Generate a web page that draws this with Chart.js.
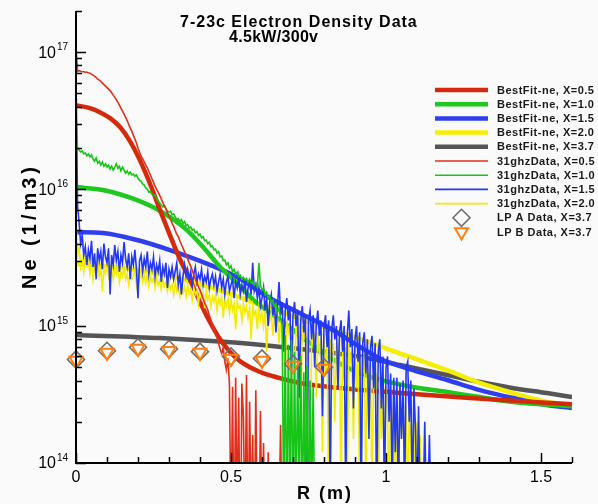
<!DOCTYPE html>
<html>
<head>
<meta charset="utf-8">
<script src="https://cdn.jsdelivr.net/npm/chart.js@4.4.1/dist/chart.umd.min.js"></script>
<style>
html,body{margin:0;padding:0;background:#fafafa;}
canvas{display:block;}
</style>
</head>
<body>
<canvas id="c" width="598" height="504"></canvas>
<script>
// All densities below are in units of 1e14 m^-3
const UNIT = 1e14;
// 31 GHz interferometer traces are sampled every 0.005 m starting at R = 0
const R_STEP = 0.005;

const TITLE_LINE1 = '7-23c Electron Density Data';
const TITLE_LINE2 = '4.5kW/300v';
const X_TITLE = 'R (m)';
const Y_TITLE = 'Ne (1/m3)';

const X_TICKS = [0, 0.5, 1, 1.5];
const X_TICK_LABELS = ['0', '0.5', '1', '1.5'];
const Y_TICKS = [1e14, 1e15, 1e16, 1e17];
const Y_TICK_EXP = ['14', '15', '16', '17'];

// ---- Best fit curves ----
const R_FIT_05 = [0,0.045,0.077,0.11,0.142,0.174,0.206,0.239,0.271,0.303,0.335,0.368,0.4,0.432,0.465,0.497,0.529,0.594,0.658,0.723,0.852,1.045,1.271,1.6];
const NE_FIT_05 = [410,390,365,330,284,224,163,109,70.3,46.2,30.9,21.7,15.0,10.7,8.0,6.46,5.55,4.62,4.17,3.84,3.53,3.25,2.98,2.69];

const R_FIT_10 = [0,0.087,0.197,0.248,0.303,0.358,0.41,0.465,0.519,0.584,0.658,0.755,0.852,0.948,1.087,1.197,1.303,1.41,1.6];
const NE_FIT_10 = [103.5,98.5,83.2,74,62.5,50.2,37.8,27,20.6,14.7,11.1,7.5,5.3,4.25,3.59,3.3,3.03,2.79,2.6];

const R_FIT_15 = [0,0.087,0.197,0.303,0.41,0.519,0.626,0.723,0.829,0.916,0.99,1.087,1.197,1.303,1.41,1.519,1.6];
const NE_FIT_15 = [48.5,47.8,42.5,35.9,29.3,22.8,16.0,12.4,9.35,7.03,5.65,4.77,4.04,3.41,2.98,2.65,2.52];

const R_FIT_20 = [0,0.1,0.2,0.3,0.4,0.5,0.6,0.7,0.8,0.9,0.99,1.087,1.197,1.303,1.41,1.519,1.6];
const NE_FIT_20 = [28.4,27.4,25.6,23.2,20.3,17.1,14.2,11.8,9.8,8.3,7.0,5.85,4.77,3.84,3.24,2.79,2.65];

const R_FIT_37 = [0,0.271,0.487,0.616,0.723,0.829,0.939,1.045,1.197,1.303,1.41,1.519,1.6];
const NE_FIT_37 = [8.6,8.17,7.64,7.2,6.8,6.36,5.85,5.19,4.39,3.9,3.52,3.24,3.03];

// ---- 31 GHz data (R = i * R_STEP) ----
const NE_31_05 = [
1090,726,733,726,720,720,715,714,708,703,
691,680,668,652,635,625,614,594,580,565,
551,537,524,506,486,470,451,432,411,390,
371,353,335,317,298,279,265,248,232,217,
199,186,174,166,158,150,143,134,127,119,
112,105,100,95,90,85,80,75,72,67,
63.5,60,56.5,53.5,50,47,45,42,39.6,37.2,
35,33,31,29,27.4,25.6,23.6,22,20.6,19.3,
18.3,17.1,15.8,14.8,14,13.1,12,11.1,10.2,9.5,
8.7,8.2,7.5,6.8,6.3,6.9,5.5,4.8,5.8,3.8,
0.3,3.6,0.2,4.2,0.4,3.0,0.1,3.8,2.2,0.3,
4.4,0.2,2.8,0.4,1.6,0.2,3.4,0.3,0.2,2.4,
0.3,1.4,0.2,0.2,1.2,0.2,0.3,0.2,0.2,0.3,
0.2,0.4,1.9,0.2];

const NE_31_10 = [
360,199,193,187,190,181,184,175,181,172,
178,166,160,169,155,160,150,158,147,153,
145,150,140,147,138,145,153,142,147,136,
145,138,131,136,129,133,127,129,124,127,
120,116,114,109,107,102,100,95,96,92,
89,90,85,82,79,77,74,76,72,69,
68,69,65,66,63,60,61,58,60,56,
58,54,55,52,53,50,51,48,49,46,
47,44,45,42,42.5,40,41,38,38.5,36,
36.5,34,35,32,32.5,30,30.3,28,29,26.5,
27.5,25,26,24,24.8,23,23.5,22,22.7,21.7,
22.3,20.9,22,20.6,21.3,19.9,20.6,19.3,28.8,19.9,
18.3,18.9,17,17.7,16,16.6,15,15.5,14,14.5,
12.7,13.5,11.4,10.2,0.4,8.6,0.3,7.3,0.5,7.9,
0.3,6.5,0.4,5.6,0.6,6.1,0.3,4.6,0.4,5.2,
0.3,4.0,0.5,3.6,0.4,0.3];

const NE_31_15 = [
700,76,57,40,46,33,38,28,36,31,
42,27,34,22,37,30,35,26,40,32,
29,37,17,33,28,39,30,35,25,33,
29,41,31,27,34,22,32,28,36,26,
16,30,33,25,31,27,35,24,29,26,
32,23,28,25,30,21,27,24,29,19,
26,23,27,22,25,29,20,24,17,23,
28,23,26,22,25,20,24,27,21,24,
22,26,20,23,21,25,19,22,24,20,
23,18,21,24,19,22,17,21,23,18,
20,22,16,21,19,23,17,20,18,22,
15,19,21,17,29,18,20,16,19,14,
16,19,13,16,10,15,17,12,15,9,
14,21,12,15,6.5,13,16,11,14,4.5,
12,15,10,13,3.0,11,14,9,12,0.6,
11,13,8,12,5,10,13,8.5,11,2.2,
10,12,7,11,0.5,9.5,12,8,10,3.5,
9,11,6.5,10,0.6,8.5,13,7,9.5,2.5,
8,10,5.5,9,0.5,7.5,9,4.5,8,1.5,
7,8.5,3.5,7.5,0.4,6.5,8,2.5,6,0.5,
5,6,2,4.5,0.6,4.2,1.2,4.2,0.5,3.8,
1.5,4,0.6,5,5.5,2,4,0.5,3.5,1.8,
0.5,2.6,0.5,0.6,0.5,2.0,0.5,0.5,1.6,0.5];

const NE_31_20 = [
60,33,38,27,31,25,33,28,30,24,
29,22,28,25,30,23,27,18,26,24,
28,23,26,27,22,26,24,27,21,25,
23,27,22,24,20,25,22,23,26,20,
25,22,24.5,21,23.5,20.5,24,19.5,23,21,
22.5,19,23,20,21.5,18.5,22,19.5,21,18,
21.5,18.5,20,17,21,18,19.5,16.5,20,17.5,
19.5,16.5,20,17,18.5,15.5,19,17,18,14.5,
18.5,16,17.5,13.5,18,15.5,17,14,16.5,15,
17,13,16,14.5,16.5,11.5,15.5,14,16,12.5,
15.5,13,14.5,9.5,15,13.5,14,11,14.5,12.5,
14,11.5,13.5,8,14,12,13,9.5,13.5,11,
12.5,10,13,6.5,12,11,12.5,8.5,11.5,10,
11.5,7.5,11,9.5,10.5,5,11,9,10.5,7,
10,3.5,10.5,8.5,9.5,2.2,10,8,9,5.5,
9.5,0.6,9,7.5,8.5,3,9,6.5,8,1.2,
8.5,4.5,8,0.5,8,6.5,7.5,2,7.5,5.5,
8,0.5,7.5,4,7,0.6,7.5,5.5,6.5,1.5,
7,3.5,6.5,0.5,6,4.5,6.5,0.6,5.5,2.5,
5.5,0.5,5,3.5,4.5,0.5,4.2,1.5,3.8,0.6,
3.6,2.4,0.5,3.4,1.2,3.2,0.5,2.8,0.6,3,
1.6,2.8,0.5,2.6,0.5,2.4,1.4,0.5,2.2,0.5,
2.0,0.5,1.6,0.5,0.5];

// ---- Langmuir probe data, X = 3.7 ----
const R_LP = [0,0.1,0.2,0.3,0.4,0.5,0.6,0.7,0.8];
const NE_LP_A = [5.7,6.6,7.0,6.8,6.5,6.0,5.8,5.3,5.0];
const NE_LP_B = [5.6,6.4,6.85,6.6,6.4,5.8,5.6,5.15,4.9];

// ---- helpers to build point lists ----
function pairs(rs, vals) { return vals.map((v, i) => ({ x: rs[i], y: v * UNIT })); }
function sampled(vals) { return vals.map((v, i) => ({ x: +(i * R_STEP).toFixed(3), y: v * UNIT })); }

const C = {
  fitRed: '#d42a0c', fitGreen: '#1ec81e', fitBlue: '#2f3ff0', fitYellow: '#f6ee00', fitGray: '#555555',
  datRed: '#e0301c', datGreen: '#16c416', datBlue: '#2238f2', datYellow: '#f4ec00',
  lpA: '#6e6e6e', lpB: '#ff7f10'
};

function fit(label, rs, vals, color) {
  return { label, data: pairs(rs, vals), borderColor: color, backgroundColor: color, borderWidth: 4.5,
    pointRadius: 0, cubicInterpolationMode: 'monotone', fill: false };
}
function trace(label, vals, color) {
  return { label, data: sampled(vals), borderColor: color, backgroundColor: color, borderWidth: 1.6,
    pointRadius: 0, tension: 0, fill: false };
}

// index 0 is drawn on top
const datasets = [
  { label: 'LP B Data, X=3.7', data: pairs(R_LP, NE_LP_B), showLine: false, pointStyle: 'triangle', rotation: 180,
    pointRadius: 7.5, pointBorderWidth: 2, borderColor: C.lpB, pointBorderColor: C.lpB, backgroundColor: 'rgba(0,0,0,0)', pointBackgroundColor: 'rgba(0,0,0,0)', clip: false },
  { label: 'LP A Data, X=3.7', data: pairs(R_LP, NE_LP_A), showLine: false, pointStyle: 'rectRot',
    pointRadius: 8.5, pointBorderWidth: 1.6, borderColor: C.lpA, pointBorderColor: C.lpA, backgroundColor: 'rgba(0,0,0,0)', pointBackgroundColor: 'rgba(0,0,0,0)', clip: false },
  trace('31ghzData, X=0.5', NE_31_05, C.datRed),
  trace('31ghzData, X=1.0', NE_31_10, C.datGreen),
  trace('31ghzData, X=1.5', NE_31_15, C.datBlue),
  trace('31ghzData, X=2.0', NE_31_20, C.datYellow),
  fit('BestFit-ne, X=0.5', R_FIT_05, NE_FIT_05, C.fitRed),
  fit('BestFit-ne, X=1.0', R_FIT_10, NE_FIT_10, C.fitGreen),
  fit('BestFit-ne, X=1.5', R_FIT_15, NE_FIT_15, C.fitBlue),
  fit('BestFit-ne, X=2.0', R_FIT_20, NE_FIT_20, C.fitYellow),
  fit('BestFit-ne, X=3.7', R_FIT_37, NE_FIT_37, C.fitGray)
];
// legend order (dataset indices)
const LEGEND_ORDER = [6, 7, 8, 9, 10, 2, 3, 4, 5, 1, 0];

const FONT = '"Liberation Sans", Arial, Helvetica, sans-serif';

function line(ctx, x1, y1, x2, y2) { ctx.beginPath(); ctx.moveTo(x1, y1); ctx.lineTo(x2, y2); ctx.stroke(); }

const decor = {
  id: 'decor',
  beforeDraw(chart) {
    const ctx = chart.ctx;
    ctx.save();
    ctx.fillStyle = '#fafafa';
    ctx.fillRect(0, 0, chart.width, chart.height);
    ctx.restore();
  },
  afterDatasetsDraw(chart) {
    const ctx = chart.ctx, a = chart.chartArea, xs = chart.scales.x, ys = chart.scales.y;
    ctx.save();
    ctx.strokeStyle = '#000';
    ctx.lineCap = 'butt';
    // ticks (inward)
    ctx.lineWidth = 1.5;
    for (let e = 14; e <= 17; e++) {
      for (let m = 1; m <= 9; m++) {
        const v = m * Math.pow(10, e);
        if (v < ys.min * 0.999 || v > ys.max * 1.001) continue;
        const y = Math.round(ys.getPixelForValue(v)) + 0.5;
        line(ctx, a.left, y, a.left + (m === 1 ? 10 : 6), y);
      }
    }
    for (let i = 0; i <= 16; i++) {
      const x = Math.round(xs.getPixelForValue(i / 10)) + 0.5;
      line(ctx, x, a.bottom, x, a.bottom - (i % 5 === 0 ? 10 : 6));
    }
    // axis lines
    ctx.lineWidth = 2;
    line(ctx, a.left, a.top, a.left, a.bottom + 1);
    line(ctx, a.left - 1, a.bottom, a.right, a.bottom);
    // tick labels
    ctx.fillStyle = '#000';
    ctx.textBaseline = 'middle';
    ctx.font = '16px ' + FONT;
    ctx.textAlign = 'center';
    X_TICKS.forEach((v, i) => ctx.fillText(X_TICK_LABELS[i], xs.getPixelForValue(v), a.bottom + 15));
    Y_TICKS.forEach((v, i) => {
      const y = ys.getPixelForValue(v);
      ctx.font = '16px ' + FONT;
      ctx.textAlign = 'right';
      ctx.fillText('10', 56, y + 1);
      ctx.font = '10px ' + FONT;
      ctx.textAlign = 'left';
      ctx.fillText(Y_TICK_EXP[i], 57, y - 5);
    });
    // axis titles
    ctx.font = 'bold 18px ' + FONT;
    ctx.letterSpacing = '2px';
    ctx.textAlign = 'left';
    ctx.textBaseline = 'alphabetic';
    ctx.fillText(X_TITLE, 297, 499);
    ctx.save();
    ctx.translate(36, 289);
    ctx.rotate(-Math.PI / 2);
    ctx.font = 'bold 20px ' + FONT;
    ctx.letterSpacing = '4px';
    ctx.fillText(Y_TITLE, 0, 0);
    ctx.restore();
    ctx.restore();
  },
  afterDraw(chart) {
    const ctx = chart.ctx;
    ctx.save();
    ctx.fillStyle = '#000';
    ctx.textAlign = 'left';
    ctx.textBaseline = 'alphabetic';
    ctx.font = 'bold 16px ' + FONT;
    ctx.letterSpacing = '1px';
    ctx.fillText(TITLE_LINE1, 180, 27);
    ctx.letterSpacing = '0.3px';
    ctx.fillText(TITLE_LINE2, 229, 42);
    // legend
    ctx.font = 'bold 11px ' + FONT;
    ctx.letterSpacing = '0.5px';
    ctx.textBaseline = 'middle';
    LEGEND_ORDER.forEach((di, k) => {
      const ds = chart.data.datasets[di];
      const y = 90 + k * 14.2;
      if (ds.showLine === false) {
        const cx = 461.5, r = ds.pointRadius;
        ctx.strokeStyle = ds.borderColor;
        ctx.lineWidth = ds.pointBorderWidth;
        ctx.beginPath();
        if (ds.pointStyle === 'rectRot') {
          ctx.moveTo(cx - r, y); ctx.lineTo(cx, y - r); ctx.lineTo(cx + r, y); ctx.lineTo(cx, y + r);
        } else {
          const s = r * Math.sin(Math.PI / 3);
          ctx.moveTo(cx - s, y - r / 2); ctx.lineTo(cx + s, y - r / 2); ctx.lineTo(cx, y + r);
        }
        ctx.closePath();
        ctx.stroke();
      } else {
        ctx.strokeStyle = ds.borderColor;
        ctx.lineWidth = ds.borderWidth;
        line(ctx, 435, y, 488, y);
      }
      ctx.fillStyle = '#1a1a1a';
      ctx.fillText(ds.label, 497, y + 0.5);
    });
    ctx.restore();
  }
};

new Chart(document.getElementById('c').getContext('2d'), {
  type: 'line',
  data: { datasets },
  options: {
    responsive: false,
    animation: false,
    devicePixelRatio: 1,
    layout: { padding: { left: 76, right: 26, top: 11, bottom: 41 } },
    scales: {
      x: { type: 'linear', min: 0, max: 1.6, display: false },
      y: { type: 'logarithmic', min: 1e14, max: 2e17, display: false }
    },
    plugins: { legend: { display: false }, tooltip: { enabled: false }, title: { display: false } },
    elements: { point: { radius: 0 } }
  },
  plugins: [decor]
});
</script>
</body>
</html>
